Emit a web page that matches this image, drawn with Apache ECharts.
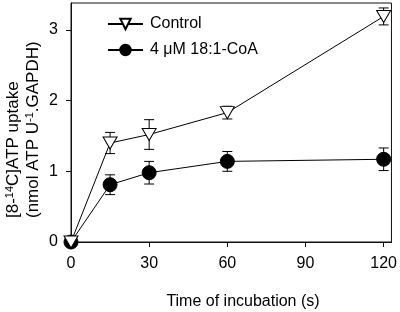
<!DOCTYPE html>
<html>
<head>
<meta charset="utf-8">
<script src="https://cdn.jsdelivr.net/npm/echarts@6/dist/echarts.min.js"></script>
<style>
  html, body { margin: 0; padding: 0; background: #fff; }
  #main { width: 400px; height: 312px; }
</style>
</head>
<body>
<div id="main"></div>
<script>
// 数据
var times = [0, 15, 30, 60, 120];
var controlVals = [0, 1.40, 1.52, 1.83, 3.19];
var controlErr = [0, 0.15, 0.21, 0.09, 0.12];
var coaVals = [0, 0.81, 0.98, 1.14, 1.17];
var coaErr = [0, 0.14, 0.16, 0.14, 0.16];
var xTicks = [0, 30, 60, 90, 120];
var yTicks = [0, 1, 2, 3];

var FONT = 'Liberation Sans, Arial, sans-serif';

function pairs(xs, ys) {
  var out = [];
  for (var i = 0; i < xs.length; i++) out.push([xs[i], ys[i]]);
  return out;
}
function errData(xs, ys, es) {
  var out = [];
  for (var i = 0; i < xs.length; i++) {
    if (es[i] > 0) out.push([xs[i], ys[i] - es[i], ys[i] + es[i]]);
  }
  return out;
}
// 误差棒
function renderErr(params, api) {
  var lo = api.coord([api.value(0), api.value(1)]);
  var hi = api.coord([api.value(0), api.value(2)]);
  var w = 5;
  var st = { stroke: '#000', lineWidth: 1 };
  return {
    type: 'group',
    children: [
      { type: 'line', shape: { x1: lo[0], y1: lo[1], x2: hi[0], y2: hi[1] }, style: st },
      { type: 'line', shape: { x1: lo[0] - w, y1: lo[1], x2: lo[0] + w, y2: lo[1] }, style: st },
      { type: 'line', shape: { x1: hi[0] - w, y1: hi[1], x2: hi[0] + w, y2: hi[1] }, style: st }
    ]
  };
}

var chart = echarts.init(document.getElementById('main'));
var option = {
  animation: false,
  backgroundColor: '#fff',
  grid: {
    left: 71, right: 8, top: 3, bottom: 70,
    show: true, borderColor: '#111', borderWidth: 1
  },
  legend: {
    orient: 'vertical',
    left: 102, top: 11,
    itemWidth: 35, itemHeight: 13, itemGap: 10,
    textStyle: { fontFamily: FONT, fontSize: 16, color: '#000', padding: [0, 0, 0, 2] },
    data: ['Control', '4 \u03bcM 18:1-CoA']
  },
  xAxis: {
    type: 'value', min: 0, max: 123,
    axisLine: { lineStyle: { color: '#111', width: 1 } },
    axisTick: { show: true, inside: false, length: 5, customValues: xTicks, lineStyle: { color: '#111' } },
    axisLabel: { customValues: xTicks, margin: 14, fontFamily: FONT, fontSize: 16, color: '#000' },
    splitLine: { show: false }
  },
  yAxis: {
    type: 'value', min: 0, max: 3.38,
    axisLine: { show: true, lineStyle: { color: '#111', width: 1 } },
    axisTick: { show: true, inside: false, length: 5, customValues: yTicks, lineStyle: { color: '#111' } },
    axisLabel: { customValues: yTicks, margin: 13, fontFamily: FONT, fontSize: 16, color: '#000' },
    splitLine: { show: false }
  },
  graphic: [
    {
      type: 'text', x: 13, y: 218, rotation: Math.PI / 2,
      style: {
        text: '[8-{s|14}C]ATP uptake',
        font: '17px ' + FONT, fill: '#000', align: 'left', verticalAlign: 'middle',
        rich: { s: { fontSize: 11, fontFamily: FONT, verticalAlign: 'top', fill: '#000' } }
      }
    },
    {
      type: 'text', x: 33, y: 218, rotation: Math.PI / 2,
      style: {
        text: '(nmol ATP U{s|-1}.GAPDH)',
        font: '17px ' + FONT, fill: '#000', align: 'left', verticalAlign: 'middle',
        rich: { s: { fontSize: 11, fontFamily: FONT, verticalAlign: 'top', fill: '#000' } }
      }
    },
    {
      type: 'text', x: 243, y: 302,
      style: {
        text: 'Time of incubation (s)',
        font: '16px ' + FONT, fill: '#000', align: 'center', verticalAlign: 'middle'
      }
    }
  ],
  series: [
    {
      type: 'custom', name: 'errCoa', renderItem: renderErr, z: 1,
      data: errData(times, coaVals, coaErr), silent: true
    },
    {
      type: 'custom', name: 'errControl', renderItem: renderErr, z: 1,
      data: errData(times, controlVals, controlErr), silent: true
    },
    {
      name: '4 \u03bcM 18:1-CoA', type: 'line', z: 3,
      data: pairs(times, coaVals),
      symbol: 'circle', symbolSize: 14, showAllSymbol: true,
      lineStyle: { color: '#000', width: 1 },
      itemStyle: { color: '#000', borderColor: '#000', borderWidth: 1 }
    },
    {
      name: 'Control', type: 'line', z: 4,
      data: pairs(times, controlVals),
      symbol: 'triangle', symbolRotate: 180, symbolSize: [14, 12], showAllSymbol: true,
      lineStyle: { color: '#000', width: 1 },
      itemStyle: { color: '#fff', borderColor: '#000', borderWidth: 1 }
    }
  ]
};
chart.setOption(option);
</script>
</body>
</html>
